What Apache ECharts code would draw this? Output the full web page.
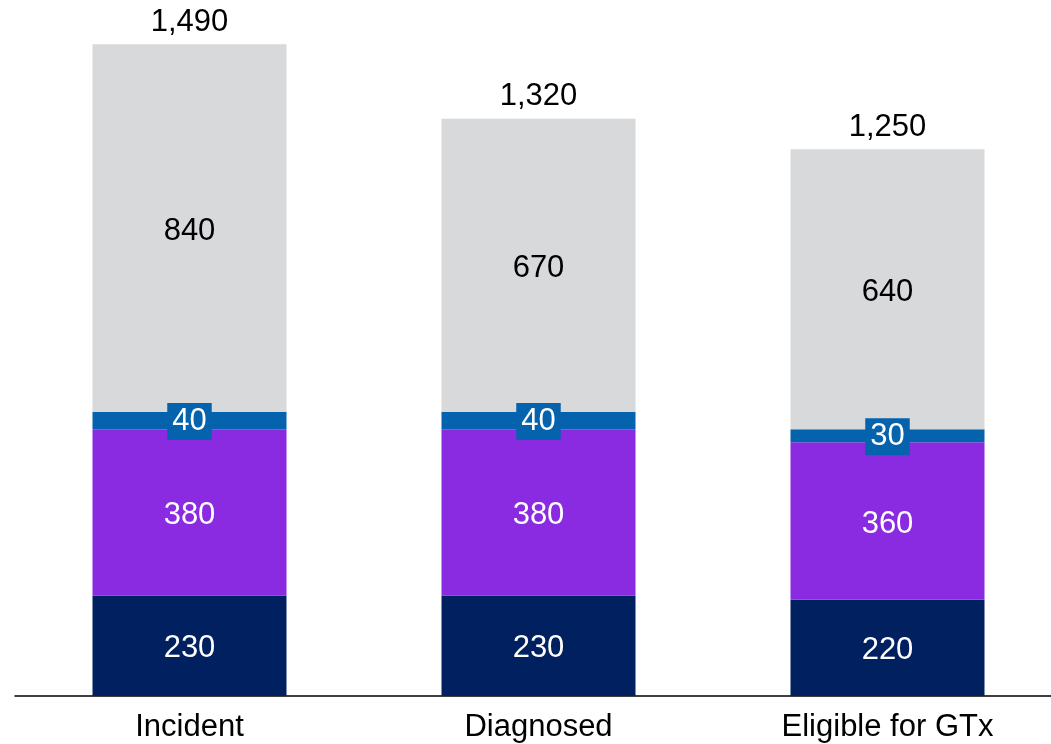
<!DOCTYPE html>
<html>
<head>
<meta charset="utf-8">
<script src="https://cdn.jsdelivr.net/npm/echarts@6/dist/echarts.min.js"></script>
<style>html,body{margin:0;padding:0;background:#fff;overflow:hidden;width:1051px;height:744px}#c{width:1062px;height:744px}</style>
</head>
<body>
<div id="c"></div>
<script>
const categories = ['Incident', 'Diagnosed', 'Eligible for GTx'];
const navyValues = [230, 230, 220];
const purpleValues = [380, 380, 360];
const blueValues = [40, 40, 30];
const grayValues = [840, 670, 640];
const totals = [1490, 1320, 1250];

const FONT = 'Liberation Sans, Arial, sans-serif';
const FS = 31;

function barSeries(name, data, color, labelColor, extra) {
  return Object.assign({
    name: name, type: 'bar', stack: 'total', barWidth: 194, data: data,
    itemStyle: { color: color },
    label: { show: true, position: 'inside', color: labelColor, fontSize: FS, fontFamily: FONT, offset: [0, 3] },
    emphasis: { disabled: true }, animation: false
  }, extra || {});
}

const chart = echarts.init(document.getElementById('c'), null, { renderer: 'canvas' });
chart.setOption({
  animation: false,
  grid: { left: 15, right: 0, top: 40, bottom: 48 },
  xAxis: {
    type: 'category', data: categories,
    axisLine: { show: true, lineStyle: { color: '#000', width: 1.5 } },
    axisTick: { show: false },
    axisLabel: { color: '#000', fontSize: FS, fontFamily: FONT, margin: 16 }
  },
  yAxis: { type: 'value', min: 0, max: 1500, show: false, splitLine: { show: false } },
  series: [
    barSeries('navy', navyValues, '#002060', '#fff'),
    barSeries('purple', purpleValues, '#8a2be2', '#fff'),
    barSeries('blue', blueValues, '#0563ad', '#fff', {
      label: { show: true, position: 'inside', color: '#fff', fontSize: FS, fontFamily: FONT,
               backgroundColor: '#0563ad', padding: [4, 5, 2, 5], offset: [0, 1] }
    }),
    barSeries('gray', grayValues, '#d8d9db', '#000'),
    {
      name: 'total', type: 'line', data: totals, symbol: 'circle', symbolSize: 1,
      itemStyle: { color: 'rgba(0,0,0,0)' },
      lineStyle: { opacity: 0 }, silent: true,
      label: { show: true, position: 'top', distance: 6, color: '#000', fontSize: FS, fontFamily: FONT,
               formatter: p => p.value.toLocaleString('en-US') }
    }
  ]
});
</script>
</body>
</html>
